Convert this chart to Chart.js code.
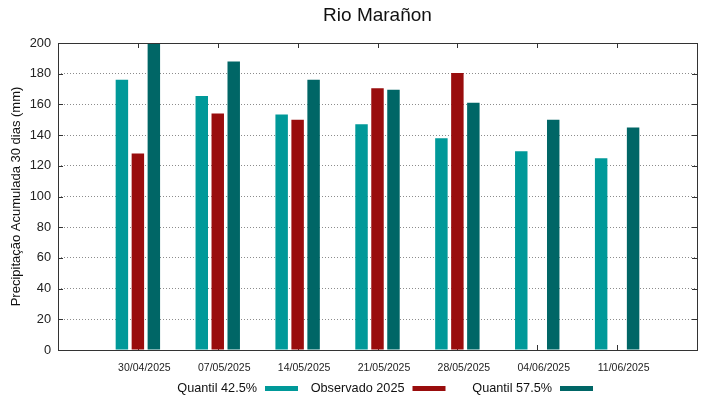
<!DOCTYPE html>
<html>
<head>
<meta charset="utf-8">
<title>Rio Marañon</title>
<script src="https://cdn.jsdelivr.net/npm/chart.js@4.4.1/dist/chart.umd.min.js"></script>
<style>
  html, body { margin: 0; padding: 0; background: #fff; }
  #wrap { width: 719px; height: 399px; position: relative; }
</style>
</head>
<body>
<div id="wrap"><canvas id="chart" width="719" height="399"></canvas></div>
<script>
// data
const dates = ['30/04/2025', '07/05/2025', '14/05/2025', '21/05/2025', '28/05/2025', '04/06/2025', '11/06/2025'];
const quantil425 = [176, 165.5, 153.5, 147, 138, 129.5, 125];
const observado = [128, 154, 150, 170.5, 180.5, null, null];
const quantil575 = [200, 188, 176, 169.5, 161, 150, 145];
const yTicks = [0, 20, 40, 60, 80, 100, 120, 140, 160, 180, 200];
const chartTitle = 'Rio Marañon';

const FONT = "'Liberation Sans', Arial, sans-serif";
const AXIS = '#333';

// one empty slot either side so the dates sit where the original puts them
const pad = arr => [null, ...arr, null];
const labels = ['', ...dates, ''];

const series = [
    { label: 'Quantil 42.5%', data: pad(quantil425), color: '#009999' },
    { label: 'Observado 2025', data: pad(observado), color: '#990d0d' },
    { label: 'Quantil 57.5%', data: pad(quantil575), color: '#006666' }
];

// gnuplot-like frame with inward ticks
const framePlugin = {
    id: 'frame',
    beforeDatasetsDraw(chart) {
        const { ctx, chartArea: a, scales } = chart;
        ctx.save();
        ctx.strokeStyle = AXIS;
        ctx.lineWidth = 1;
        ctx.beginPath();
        yTicks.forEach(v => {
            const y = Math.round(scales.y.getPixelForValue(v)) + 0.5;
            ctx.moveTo(a.left, y); ctx.lineTo(a.left + 5, y);
            ctx.moveTo(a.right, y); ctx.lineTo(a.right - 5, y);
        });
        dates.forEach((d, i) => {
            const x = Math.round(scales.x.getPixelForValue(i + 1)) + 0.5;
            ctx.moveTo(x, a.top); ctx.lineTo(x, a.top + 5);
            ctx.moveTo(x, a.bottom); ctx.lineTo(x, a.bottom - 5);
        });
        ctx.stroke();
        ctx.restore();
    },
    afterDatasetsDraw(chart) {
        const { ctx, chartArea: a } = chart;
        ctx.save();
        ctx.strokeStyle = AXIS;
        ctx.lineWidth = 1;
        ctx.strokeRect(Math.round(a.left) + 0.5, Math.round(a.top) + 0.5,
            Math.round(a.right - a.left), Math.round(a.bottom - a.top));
        ctx.restore();
    }
};

// title centred over the plot box, not the whole canvas
const titlePlugin = {
    id: 'plotTitle',
    afterDraw(chart) {
        const { ctx, chartArea: a } = chart;
        ctx.save();
        ctx.font = '19px ' + FONT;
        ctx.fillStyle = '#111';
        ctx.textAlign = 'center';
        ctx.textBaseline = 'middle';
        ctx.fillText(chartTitle, (a.left + a.right) / 2, 16);
        ctx.restore();
    }
};

// key below the plot: text first, then a sample bar (gnuplot style)
const keyPlugin = {
    id: 'key',
    afterDraw(chart) {
        const ctx = chart.ctx;
        const colWidth = 147.5;
        const firstRight = 257;
        const y = 388;
        ctx.save();
        ctx.font = '12.7px ' + FONT;
        ctx.textAlign = 'right';
        ctx.textBaseline = 'middle';
        chart.data.datasets.forEach((ds, i) => {
            const right = firstRight + i * colWidth;
            ctx.fillStyle = '#111';
            ctx.fillText(ds.label, right, y);
            ctx.fillStyle = ds.backgroundColor;
            ctx.fillRect(right + 8, y - 2, 33, 5);
        });
        ctx.restore();
    }
};

new Chart(document.getElementById('chart'), {
    type: 'bar',
    data: {
        labels,
        datasets: series.map(s => ({
            label: s.label,
            data: s.data,
            backgroundColor: s.color,
            borderWidth: 0,
            categoryPercentage: 0.6,
            barPercentage: 0.78
        }))
    },
    options: {
        responsive: false,
        animation: false,
        events: [],
        layout: { padding: { left: 0, right: 22, top: 43, bottom: 0 } },
        plugins: {
            legend: { display: false },
            tooltip: { enabled: false },
            title: { display: false }
        },
        scales: {
            x: {
                offset: false,
                grid: { display: false, drawTicks: false },
                border: { display: false },
                ticks: {
                    autoSkip: false,
                    maxRotation: 0,
                    padding: 12,
                    labelOffset: 6.5,
                    color: '#222',
                    font: { family: FONT, size: 10.5 }
                },
                afterFit(scale) { scale.height = 49; }
            },
            y: {
                min: 0,
                max: 200,
                grid: {
                    drawTicks: false,
                    color: ctx => (ctx.tick.value === 0 || ctx.tick.value === 200) ? 'rgba(0,0,0,0)' : 'rgba(0,0,0,0.45)',
                    lineWidth: 1
                },
                border: { display: false, dash: [1, 2] },
                ticks: {
                    stepSize: 20,
                    padding: 7,
                    color: '#222',
                    font: { family: FONT, size: 12.8 }
                },
                title: {
                    display: true,
                    text: 'Precipitação Acumulada 30 dias (mm)',
                    color: '#111',
                    font: { family: FONT, size: 13 },
                    padding: { top: 9, bottom: 0 }
                },
                afterFit(scale) { scale.width = 58; }
            }
        }
    },
    plugins: [framePlugin, titlePlugin, keyPlugin]
});
</script>
</body>
</html>
